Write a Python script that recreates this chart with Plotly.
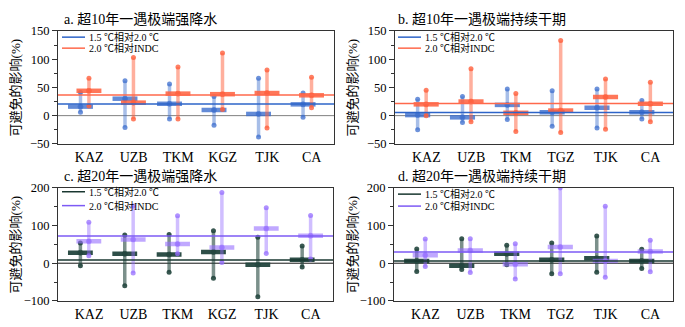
import plotly.graph_objects as go

W, H = 685, 327
FONT = "Liberation Serif, Noto Sans CJK SC, serif"

cats_a = ["KAZ", "UZB", "TKM", "KGZ", "TJK", "CA"]
cats_b = ["KAZ", "UZB", "TKM", "TGZ", "TJK", "CA"]

# panel a: 10-year extreme heavy precipitation
a_s1_med = [16, 30, 21, 10, 3, 20]
a_s1_lo = [6, -21, -6, -17, -38, -3]
a_s1_hi = [41, 62, 56, 34, 66, 40]
a_s2_med = [44, 23, 39, 38, 40, 36]
a_s2_lo = [17, -6, -6, 11, -22, 14]
a_s2_hi = [66, 103, 86, 111, 81, 68]
a_ref = [20.8, 36.5]

# panel b: 10-year extreme consecutive dry days
b_s1_med = [1, -3, 19, 6, 14, 6]
b_s1_lo = [-25, -12, -7, -19, -22, -6]
b_s1_hi = [29, 34, 47, 44, 47, 27]
b_s2_med = [20, 25, 5, 9, 33, 21]
b_s2_lo = [0, -11, -28, -30, -24, -11]
b_s2_hi = [45, 83, 39, 133, 65, 59]
b_ref = [5.6, 21.3]

# panel c: 20-year extreme heavy precipitation
c_s1_med = [28, 25, 23, 30, -4, 9]
c_s1_lo = [-7, -60, -24, -40, -89, -10]
c_s1_hi = [54, 75, 76, 86, 69, 46]
c_s2_med = [58, 63, 51, 42, 92, 73]
c_s2_lo = [20, -26, 25, 2, 26, 11]
c_s2_hi = [109, 152, 126, 188, 147, 127]
c_ref = [8.5, 72]

# panel d: 20-year extreme consecutive dry days
d_s1_med = [6, -7, 25, 9, 13, 6]
d_s1_lo = [-22, -17, -4, -28, -24, -14]
d_s1_hi = [38, 65, 48, 54, 72, 37]
d_s2_med = [21, 34, -3, 43, 6, 31]
d_s2_lo = [-9, -25, -42, -28, -37, -23]
d_s2_hi = [64, 65, 52, 200, 151, 61]
d_ref = [6, 30]

legend_names = ["1.5 ℃相对2.0 ℃", "2.0 ℃相对INDC"]
titles = ["a. 超10年一遇极端强降水", "b. 超10年一遇极端持续干期",
          "c. 超20年一遇极端强降水", "d. 超20年一遇极端持续干期"]
ytitle = "可避免的影响(%)"

XR = [-0.6, 5.6]
OFF = 0.095
HALF = 0.28

pal_ab = {
    "s1": (60, 110, 205), "s2": (255, 95, 60),
    "ref1": "rgb(45,100,200)", "ref2": "rgb(255,105,75)",
    "zero": "rgb(128,128,128)",
    "a_wh": (0.45, 0.5), "a_md": (0.8, 0.85),
}
pal_cd = {
    "s1": (35, 70, 62), "s2": (150, 110, 255),
    "ref1": "rgb(25,55,48)", "ref2": "rgb(125,90,245)",
    "zero": "rgb(20,20,20)",
    "a_wh": (0.6, 0.45), "a_md": (0.95, 0.6),
}

panels = [
    dict(cats=cats_a, s1=(a_s1_med, a_s1_lo, a_s1_hi), s2=(a_s2_med, a_s2_lo, a_s2_hi), ref=a_ref,
         pal=pal_ab, yr=[-50, 150], dt=50, mdt=25, ax="", dom=([58, 334], [25, 143])),
    dict(cats=cats_b, s1=(b_s1_med, b_s1_lo, b_s1_hi), s2=(b_s2_med, b_s2_lo, b_s2_hi), ref=b_ref,
         pal=pal_ab, yr=[-50, 150], dt=50, mdt=25, ax="2", dom=([395, 673], [25, 143])),
    dict(cats=cats_a, s1=(c_s1_med, c_s1_lo, c_s1_hi), s2=(c_s2_med, c_s2_lo, c_s2_hi), ref=c_ref,
         pal=pal_cd, yr=[-100, 200], dt=100, mdt=50, ax="3", dom=([58, 333], [189, 307])),
    dict(cats=cats_b, s1=(d_s1_med, d_s1_lo, d_s1_hi), s2=(d_s2_med, d_s2_lo, d_s2_hi), ref=d_ref,
         pal=pal_cd, yr=[-100, 200], dt=100, mdt=50, ax="4", dom=([394, 673], [189, 307])),
]

legend_pos = [  # (x line start, y item1, y item2) in px
    (62, 31.5, 43), (398, 31.5, 43), (62, 193, 207.5), (398, 195.5, 208),
]
title_pos = [(62, 13), (396, 13), (62, 177), (396, 177)]
ytitle_x = [15, 352, 15, 352]


def rgba(c, a):
    return f"rgba({c[0]},{c[1]},{c[2]},{a})"


fig = go.Figure()
layout = dict(width=W, height=H, margin=dict(l=0, r=0, t=0, b=0), autosize=False,
              paper_bgcolor="white", plot_bgcolor="white", showlegend=False,
              font=dict(family=FONT, color="black"))
shapes = []
annotations = []

for pi, p in enumerate(panels):
    ax = p["ax"]
    xa, ya = "x" + ax, "y" + ax
    pal = p["pal"]
    (x0, x1), (y0, y1) = p["dom"]
    layout["xaxis" + ax] = dict(
        domain=[x0 / W, x1 / W], anchor=ya, range=XR,
        tickvals=[i + 0.1 for i in range(len(p["cats"]))], ticktext=p["cats"],
        ticks="", showline=True, mirror=True, linecolor="#333", linewidth=1,
        showgrid=False, zeroline=False, tickfont=dict(size=14, family=FONT))
    layout["yaxis" + ax] = dict(
        domain=[1 - y1 / H, 1 - y0 / H], anchor=xa, range=p["yr"], dtick=p["dt"],
        ticks="outside", ticklen=5, tickcolor="#333", showline=True, mirror=True,
        linecolor="#333", linewidth=1, showgrid=False, zeroline=False,
        tickfont=dict(size=12.5, family=FONT),
        minor=dict(dtick=p["mdt"], ticks="outside", ticklen=3, tickcolor="#333"))

    # zero line
    fig.add_trace(go.Scatter(x=XR, y=[0, 0], xaxis=xa, yaxis=ya, mode="lines",
                             line=dict(color=pal["zero"], width=1), hoverinfo="skip"))

    for si, key in enumerate(["s1", "s2"]):
        med, lo, hi = p[key]
        col = pal[key]
        off = -OFF if si == 0 else OFF
        # whiskers
        wx, wy = [], []
        for i in range(len(med)):
            wx += [i + off, i + off, None]
            wy += [lo[i], hi[i], None]
        fig.add_trace(go.Scatter(x=wx, y=wy, xaxis=xa, yaxis=ya, mode="lines+markers",
                                 line=dict(color=rgba(col, pal["a_wh"][si]), width=3.5),
                                 marker=dict(color=rgba(col, min(1, pal["a_wh"][si] + 0.3)), size=5),
                                 hoverinfo="skip"))
        # medians
        mx, my, ms = [], [], []
        for i in range(len(med)):
            mx += [i + off - HALF, i + off, i + off + HALF, None]
            my += [med[i], med[i], med[i], None]
            ms += [0, 5, 0, 0]
        fig.add_trace(go.Scatter(x=mx, y=my, xaxis=xa, yaxis=ya, mode="lines+markers",
                                 line=dict(color=rgba(col, pal["a_md"][si]), width=4.5),
                                 marker=dict(color=rgba(col, 1), size=ms),
                                 hoverinfo="skip"))

    # reference lines
    for ri, refc in enumerate([pal["ref1"], pal["ref2"]]):
        fig.add_trace(go.Scatter(x=XR, y=[p["ref"][ri]] * 2, xaxis=xa, yaxis=ya, mode="lines",
                                 line=dict(color=refc, width=1.5), hoverinfo="skip"))

    # manual legend
    lx, ly1, ly2 = legend_pos[pi]
    for ly, refc, name in [(ly1, pal["ref1"], legend_names[0]), (ly2, pal["ref2"], legend_names[1])]:
        shapes.append(dict(type="line", xref="paper", yref="paper",
                           x0=lx / W, x1=(lx + 23) / W, y0=1 - ly / H, y1=1 - ly / H,
                           line=dict(color=refc, width=1.5)))
        annotations.append(dict(x=(lx + 25) / W, y=1 - ly / H, xref="paper", yref="paper",
                                text=name, showarrow=False, xanchor="left", yanchor="middle",
                                font=dict(size=10, family=FONT, color="black")))

    tx, ty = title_pos[pi]
    annotations.append(dict(x=tx / W, y=1 - ty / H, xref="paper", yref="paper", text=titles[pi],
                            showarrow=False, xanchor="left", yanchor="middle",
                            font=dict(size=14, family=FONT, color="black")))
    annotations.append(dict(x=ytitle_x[pi] / W, y=1 - ((y0 + y1) / 2) / H, xref="paper", yref="paper",
                            text=ytitle, textangle=-90, showarrow=False,
                            xanchor="center", yanchor="middle",
                            font=dict(size=13, family=FONT, color="black")))

layout["shapes"] = shapes
layout["annotations"] = annotations
fig.update_layout(**layout)
fig.write_html("out.html")
